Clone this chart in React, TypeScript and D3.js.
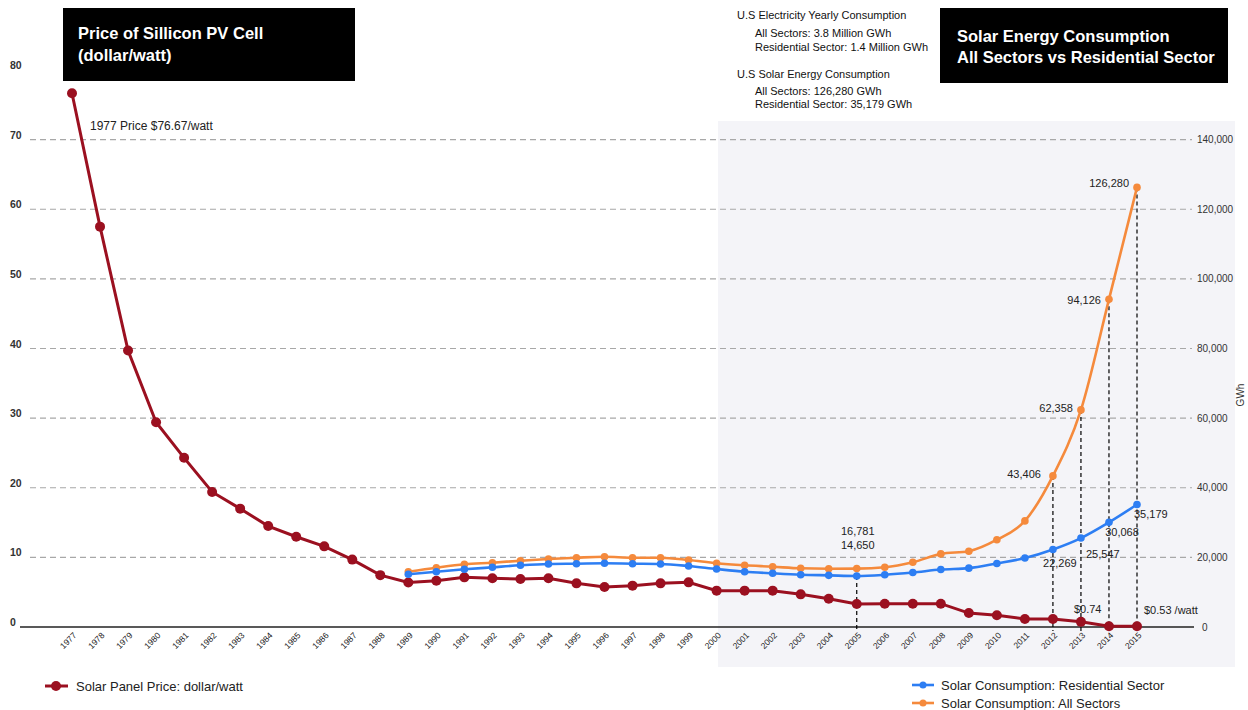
import React from "react";
import * as d3 from "d3";

const years: number[] = d3.range(1977, 2016);
const priceValues: number[] = [
  76.67, 57.5, 39.7, 29.4, 24.3, 19.4, 17.0, 14.5, 12.96, 11.58, 9.68, 7.45, 6.4,
  6.65, 7.13, 6.99, 6.89, 6.99, 6.27, 5.75, 5.94, 6.27, 6.41, 5.22, 5.22, 5.22,
  4.69, 4.05, 3.3, 3.35, 3.35, 3.35, 2.0, 1.7, 1.16, 1.16, 0.74, 0.1, 0.1,
];
const consumptionYears: number[] = d3.range(1989, 2016);
const residentialValues: number[] = [
  15140, 15885, 16570, 17150, 17720, 18100, 18190, 18300, 18190, 18100, 17520,
  16660, 15885, 15420, 15030, 14840, 14650, 15000, 15650, 16500, 16900, 18250,
  19800, 22269, 25547, 30068, 35179,
];
const allSectorValues: number[] = [
  15885, 17030, 18010, 18470, 19050, 19530, 19910, 20190, 19910, 19910, 19250,
  18300, 17720, 17320, 16860, 16750, 16781, 17150, 18580, 21000, 21770, 25070,
  30480, 43406, 62358, 94126, 126280,
];
const leftTicks: number[] = [0, 10, 20, 30, 40, 50, 60, 70, 80];
const rightTicks: number[] = [0, 20000, 40000, 60000, 80000, 100000, 120000, 140000];
const dropYearsAll: number[] = [2012, 2013, 2014, 2015];

const RED = "#9b1020";
const BLUE = "#2d7ef3";
const ORANGE = "#f58a3c";
const FONT = "'Liberation Sans', Arial, Helvetica, sans-serif";

export default function App() {
  const x = d3.scaleLinear().domain([1977, 2015]).range([72, 1137]);
  const yL = d3.scaleLinear().domain([0, 80]).range([627, 70]);
  const yR = d3.scaleLinear().domain([0, 160000]).range([627, 70]);

  const priceData = years.map((yr, i) => ({ yr, v: priceValues[i] }));
  const resData = consumptionYears.map((yr, i) => ({ yr, v: residentialValues[i] }));
  const allData = consumptionYears.map((yr, i) => ({ yr, v: allSectorValues[i] }));

  const priceLine = d3.line<{ yr: number; v: number }>().x((d) => x(d.yr)).y((d) => yL(d.v));
  const consLine = d3
    .line<{ yr: number; v: number }>()
    .x((d) => x(d.yr))
    .y((d) => yR(d.v))
    .curve(d3.curveMonotoneX);

  const fmt = d3.format(",");
  const valAll = (yr: number) => allSectorValues[consumptionYears.indexOf(yr)];
  const valRes = (yr: number) => residentialValues[consumptionYears.indexOf(yr)];

  const gridX0 = 30;
  const gridX1 = 1192;

  return (
    <svg
      width={1248}
      height={710}
      style={{ position: "absolute", left: 0, top: 0, fontFamily: FONT }}
    >
      <rect x={0} y={0} width={1248} height={710} fill="#ffffff" />
      {/* shaded region */}
      <rect x={718} y={121} width={517} height={546} fill="#f4f4f8" />

      {/* gridlines */}
      {leftTicks
        .filter((t) => t > 0 && t < 80)
        .map((t) => (
          <line
            key={"g" + t}
            x1={gridX0}
            x2={gridX1}
            y1={yL(t)}
            y2={yL(t)}
            stroke="#a8a8a8"
            strokeWidth={1.2}
            strokeDasharray="6,4"
          />
        ))}

      {/* left axis labels */}
      {leftTicks.map((t) => (
        <text
          key={"l" + t}
          x={10}
          y={yL(t) - 1}
          fontSize={10.5}
          fontWeight="bold"
          fill="#333"
        >
          {t}
        </text>
      ))}

      {/* right axis labels */}
      {rightTicks.map((t) => (
        <text
          key={"r" + t}
          x={t === 0 ? 1202 : 1197}
          y={yR(t) + 3.5}
          fontSize={10}
          fill="#333"
        >
          {fmt(t)}
        </text>
      ))}
      <text
        transform={`translate(1244,395) rotate(-90)`}
        textAnchor="middle"
        fontSize={10}
        fill="#333"
      >
        GWh
      </text>

      {/* x axis line */}
      <line x1={20} x2={1194} y1={627} y2={627} stroke="#222" strokeWidth={1.5} />

      {/* x tick labels */}
      {years.map((yr) => (
        <text
          key={"x" + yr}
          transform={`translate(${x(yr) + 5},636) rotate(-45)`}
          textAnchor="end"
          fontSize={8.5}
          fill="#222"
        >
          {yr}
        </text>
      ))}

      {/* vertical dashed drop lines */}
      <line
        x1={x(2005)}
        x2={x(2005)}
        y1={yR(valRes(2005))}
        y2={631}
        stroke="#000"
        strokeWidth={1.2}
        strokeDasharray="4,3"
      />
      {dropYearsAll.map((yr) => (
        <line
          key={"d" + yr}
          x1={x(yr)}
          x2={x(yr)}
          y1={yR(valAll(yr))}
          y2={631}
          stroke="#000"
          strokeWidth={1.2}
          strokeDasharray="4,3"
        />
      ))}

      {/* lines */}
      <path d={priceLine(priceData) || ""} fill="none" stroke={RED} strokeWidth={3} />
      {priceData.map((d) => (
        <circle key={"p" + d.yr} cx={x(d.yr)} cy={yL(d.v)} r={5} fill={RED} />
      ))}
      <path d={consLine(allData) || ""} fill="none" stroke={ORANGE} strokeWidth={2.6} />
      {allData.map((d) => (
        <circle key={"a" + d.yr} cx={x(d.yr)} cy={yR(d.v)} r={3.8} fill={ORANGE} />
      ))}
      <path d={consLine(resData) || ""} fill="none" stroke={BLUE} strokeWidth={2.6} />
      {resData.map((d) => (
        <circle key={"b" + d.yr} cx={x(d.yr)} cy={yR(d.v)} r={3.8} fill={BLUE} />
      ))}

      {/* data labels */}
      <g fontSize={11} fill="#222">
        <text x={x(2015) - 8} y={187} textAnchor="end">{fmt(valAll(2015))}</text>
        <text x={x(2014) - 8} y={304} textAnchor="end">{fmt(valAll(2014))}</text>
        <text x={x(2013) - 8} y={412} textAnchor="end">{fmt(valAll(2013))}</text>
        <text x={x(2012) - 12} y={478} textAnchor="end">{fmt(valAll(2012))}</text>
        <text x={x(2005) + 1} y={535} textAnchor="middle">{fmt(valAll(2005))}</text>
        <text x={x(2005) + 1} y={549} textAnchor="middle">{fmt(valRes(2005))}</text>
        <text x={x(2012) + 7} y={567} textAnchor="middle">{fmt(valRes(2012))}</text>
        <text x={x(2013) + 5} y={558}>{fmt(valRes(2013))}</text>
        <text x={x(2014) + 13} y={536} textAnchor="middle">{fmt(valRes(2014))}</text>
        <text x={x(2015) - 3} y={518}>{fmt(valRes(2015))}</text>
        <text x={x(2013) - 7} y={613}>$0.74</text>
        <text x={x(2015) + 7} y={614}>$0.53 /watt</text>
        <text x={90} y={130} fontSize={12}>1977 Price $76.67/watt</text>
      </g>

      {/* title boxes */}
      <rect x={63} y={8} width={292} height={73} fill="#000" />
      <text x={78} y={39} fill="#fff" fontSize={16.5} fontWeight="bold">
        Price of Sillicon PV Cell
      </text>
      <text x={78} y={61} fill="#fff" fontSize={16.5} fontWeight="bold">
        (dollar/watt)
      </text>

      <rect x={940} y={8} width={288} height={75} fill="#000" />
      <text x={957} y={42} fill="#fff" fontSize={16.5} fontWeight="bold">
        Solar Energy Consumption
      </text>
      <text x={957} y={63} fill="#fff" fontSize={16.5} fontWeight="bold">
        All Sectors vs Residential Sector
      </text>

      {/* info text */}
      <g fontSize={11} fill="#111">
        <text x={737} y={19}>U.S Electricity Yearly Consumption</text>
        <text x={755} y={37}>All Sectors: 3.8 Million GWh</text>
        <text x={755} y={51}>Residential Sector: 1.4 Million GWh</text>
        <text x={737} y={78}>U.S Solar Energy Consumption</text>
        <text x={755} y={95}>All Sectors: 126,280 GWh</text>
        <text x={755} y={108}>Residential Sector: 35,179 GWh</text>
      </g>

      {/* legends */}
      <g>
        <line x1={45} x2={68} y1={686} y2={686} stroke={RED} strokeWidth={3} />
        <circle cx={56} cy={686} r={5} fill={RED} />
        <text x={76} y={690.5} fontSize={13} fill="#222">
          Solar Panel Price: dollar/watt
        </text>

        <line x1={912} x2={934} y1={685} y2={685} stroke={BLUE} strokeWidth={2.6} />
        <circle cx={923} cy={685} r={3.5} fill={BLUE} />
        <text x={941} y={689.5} fontSize={13} fill="#222">
          Solar Consumption: Residential Sector
        </text>

        <line x1={912} x2={934} y1={703} y2={703} stroke={ORANGE} strokeWidth={2.6} />
        <circle cx={923} cy={703} r={3.5} fill={ORANGE} />
        <text x={941} y={707.5} fontSize={13} fill="#222">
          Solar Consumption: All Sectors
        </text>
      </g>
    </svg>
  );
}
